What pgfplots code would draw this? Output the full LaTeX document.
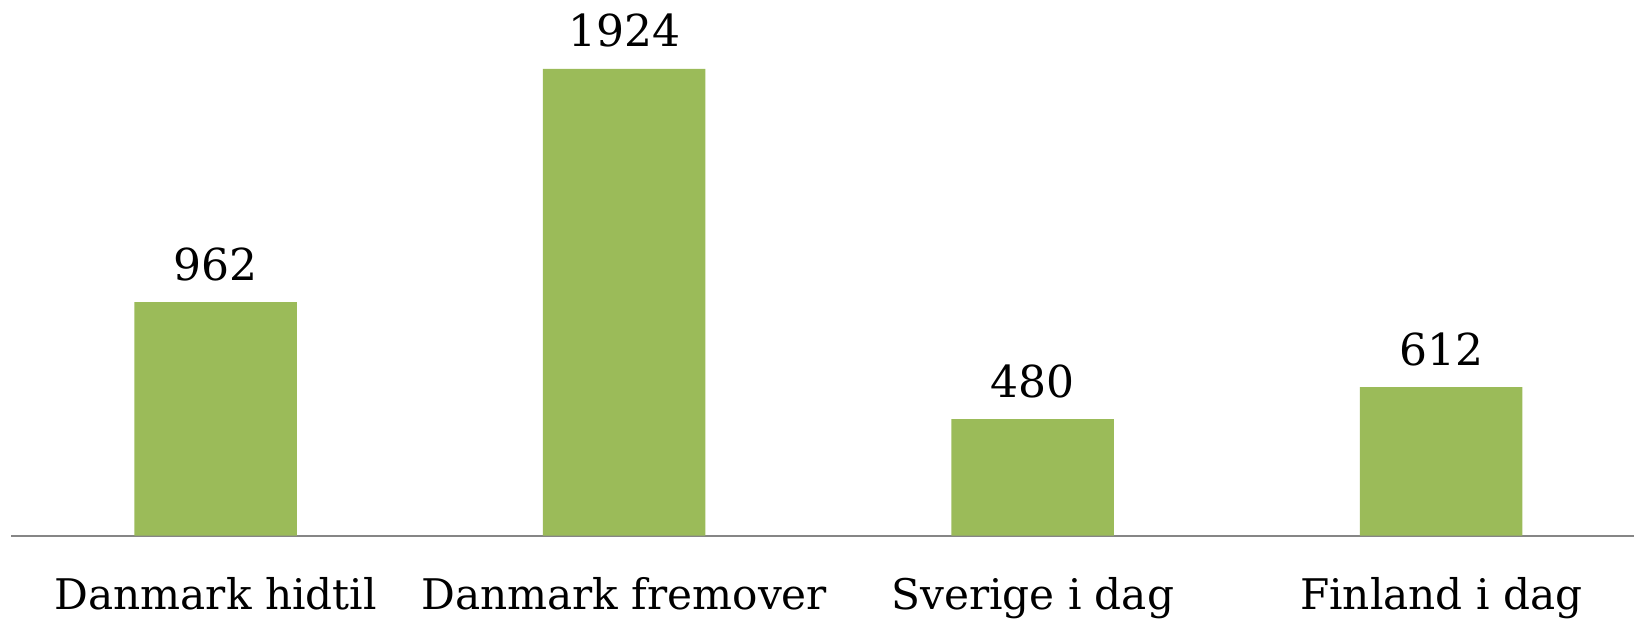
\documentclass[border=0pt]{standalone}
\usepackage{pgfplots}
\pgfplotsset{compat=1.18}
\usepackage{fontspec}
\setmainfont{DejaVu Serif}
\definecolor{bargreen}{HTML}{9BBB59}
\definecolor{axisgray}{HTML}{868686}
\begin{document}
\begin{tikzpicture}
\begin{axis}[
  name=ax,
  scale only axis,
  width=486.75pt, height=160.68pt,
  xmin=-0.5, xmax=3.472,
  ymin=0, ymax=2207.7,
  axis y line=none,
  axis x line*=bottom,
  x axis line style={axisgray, line width=0.55pt},
  xtick={0,1,2,3},
  xticklabels={Danmark hidtil, Danmark fremover, Sverige i dag, Finland i dag},
  major tick length=0pt,
  xtick style={draw=none},
  xticklabel style={font=\fontsize{12.66pt}{15pt}\selectfont, anchor=base, yshift=-22.3pt, inner sep=0pt},
  ybar,
  bar width=48.75pt,
  /pgf/number format/assume math mode=true,
  /pgf/number format/1000 sep={},
  nodes near coords,
  nodes near coords style={font=\fontsize{13.2pt}{15pt}\selectfont, anchor=base, yshift=6.6pt, inner sep=0pt, text=black},
  clip=false,
]
\addplot[fill=bargreen, draw=none] coordinates {(0,962) (1,1924) (2,480) (3,612)};
\end{axis}
\pgfresetboundingbox
\useasboundingbox ([shift={(-3.45pt,-25.62pt)}]ax.south west) rectangle (ax.north east);
\end{tikzpicture}
\end{document}
